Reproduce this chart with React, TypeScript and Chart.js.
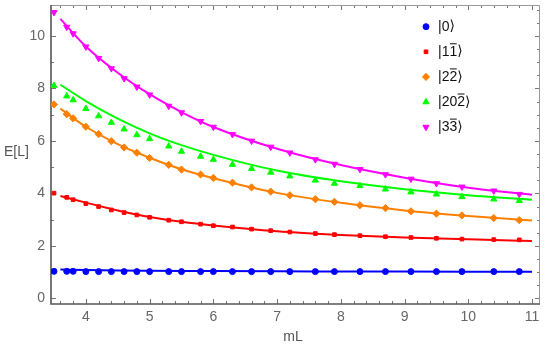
import React, { useEffect, useRef } from "react";
import { Chart, registerables } from "chart.js";

Chart.register(...registerables);

// Sample points (mL values shared by all states)
const mL = [3.5, 3.7, 3.8, 4.0, 4.2, 4.4, 4.6, 4.8, 5.0, 5.3, 5.5, 5.8, 6.0, 6.3, 6.6, 6.9, 7.2, 7.6, 7.9, 8.3, 8.7, 9.1, 9.5, 9.9, 10.4, 10.8];
const e0 = [1.03, 1.03, 1.03, 1.02, 1.02, 1.02, 1.02, 1.02, 1.02, 1.02, 1.02, 1.02, 1.02, 1.02, 1.02, 1.02, 1.02, 1.02, 1.02, 1.02, 1.02, 1.02, 1.02, 1.02, 1.02, 1.02];
const e11 = [4.01, 3.85, 3.76, 3.61, 3.5, 3.37, 3.27, 3.18, 3.09, 2.98, 2.92, 2.83, 2.77, 2.72, 2.64, 2.58, 2.53, 2.47, 2.43, 2.39, 2.35, 2.32, 2.29, 2.26, 2.24, 2.23];
const e22 = [7.39, 7.02, 6.86, 6.54, 6.26, 5.99, 5.75, 5.55, 5.35, 5.09, 4.91, 4.72, 4.59, 4.41, 4.23, 4.07, 3.93, 3.78, 3.68, 3.55, 3.44, 3.32, 3.23, 3.16, 3.06, 2.98];
const e202 = [8.11, 7.71, 7.56, 7.23, 6.95, 6.7, 6.45, 6.23, 6.08, 5.8, 5.6, 5.41, 5.29, 5.1, 4.94, 4.8, 4.66, 4.5, 4.38, 4.29, 4.16, 4.05, 3.97, 3.87, 3.78, 3.72];
const e33 = [10.9, 10.34, 10.09, 9.59, 9.15, 8.76, 8.38, 8.06, 7.76, 7.33, 7.08, 6.75, 6.53, 6.25, 6.0, 5.77, 5.55, 5.29, 5.12, 4.92, 4.72, 4.55, 4.38, 4.25, 4.1, 3.97];

// Fitted curves
const fitX = [3.6, 4, 4.5, 5, 5.5, 6, 7, 8, 9, 10, 11];
const fit0 = [1.1, 1.08, 1.065, 1.055, 1.047, 1.04, 1.03, 1.025, 1.02, 1.018, 1.015];
const fit11 = [3.9, 3.65, 3.35, 3.1, 2.92, 2.78, 2.56, 2.42, 2.32, 2.25, 2.19];
const fit22 = [7.23, 6.54, 5.88, 5.36, 4.92, 4.58, 4.02, 3.64, 3.35, 3.14, 2.97];
const fit202 = [8.14, 7.52, 6.85, 6.29, 5.84, 5.47, 4.87, 4.46, 4.16, 3.93, 3.76];
const fit33 = [10.65, 9.6, 8.6, 7.78, 7.1, 6.53, 5.7, 5.08, 4.6, 4.22, 3.95];

// Ticks
const xTicks = [4, 5, 6, 7, 8, 9, 10, 11];
const yTicks = [0, 2, 4, 6, 8, 10];

// Legend: [prefix, overlined digit]
const legendParts: [string, string][] = [["0", ""], ["1", "1"], ["2", "2"], ["20", "2"], ["3", "3"]];

const colors = ["#0000ff", "#ff0000", "#ff8000", "#00ff00", "#ff00ff"];
const styles: any[] = ["circle", "rect", "rectRot", "triangle", "triangle"];
const rotations = [0, 0, 0, 0, 180];
const radii = [3, 2.6, 3.6, 3.6, 3.6];

const pts = (xs: number[], ys: number[]) => xs.map((x, i) => ({ x, y: ys[i] }));

function marker(ctx: CanvasRenderingContext2D, style: string, rot: number, r: number, x: number, y: number) {
  ctx.beginPath();
  if (style === "circle") {
    ctx.arc(x, y, r, 0, Math.PI * 2);
  } else if (style === "rect") {
    const s = r * Math.SQRT1_2;
    ctx.rect(x - s, y - s, 2 * s, 2 * s);
  } else if (style === "rectRot") {
    ctx.moveTo(x, y - r); ctx.lineTo(x + r, y); ctx.lineTo(x, y + r); ctx.lineTo(x - r, y); ctx.closePath();
  } else {
    const a = (rot * Math.PI) / 180;
    for (let k = 0; k < 3; k++) {
      const t = a + (k * 2 * Math.PI) / 3;
      const px = x + Math.sin(t) * r;
      const py = y - Math.cos(t) * r;
      if (k === 0) ctx.moveTo(px, py); else ctx.lineTo(px, py);
    }
    ctx.closePath();
  }
  ctx.fill();
  ctx.stroke();
}

export default function App() {
  const ref = useRef<HTMLCanvasElement>(null);
  useEffect(() => {
    document.body.style.margin = "0";
    const samples = [e0, e11, e22, e202, e33];
    const fits = [fit0, fit11, fit22, fit202, fit33];
    const datasets: any[] = [];
    samples.forEach((s, i) => {
      datasets.push({
        data: pts(mL, s),
        showLine: false,
        pointStyle: styles[i],
        rotation: rotations[i],
        pointRadius: radii[i],
        pointBackgroundColor: colors[i],
        pointBorderColor: colors[i],
        pointBorderWidth: 1,
      });
    });
    fits.forEach((f, i) => {
      datasets.push({
        data: pts(fitX, f),
        showLine: true,
        pointRadius: 0,
        borderColor: colors[i],
        borderWidth: 2,
        cubicInterpolationMode: "monotone",
        fill: false,
      });
    });

    const framePlugin = {
      id: "frame",
      beforeDatasetsDraw(chart: any) {
        const { ctx, chartArea: a, scales } = chart;
        const xs = scales.x, ys = scales.y;
        ctx.save();
        ctx.strokeStyle = "#777";
        ctx.lineWidth = 1;
        ctx.beginPath();
        for (let k = 18; k <= 55; k++) {
          const v = k / 5;
          const px = Math.round(xs.getPixelForValue(v)) + 0.5;
          if (px < a.left + 1 || px > a.right - 1) continue;
          const major = k % 5 === 0;
          const L = major ? 5 : 3;
          ctx.moveTo(px, a.bottom); ctx.lineTo(px, a.bottom - L);
          ctx.moveTo(px, a.top); ctx.lineTo(px, a.top + L);
        }
        for (let k = 0; k <= 22; k++) {
          const v = k / 2;
          const py = Math.round(ys.getPixelForValue(v)) + 0.5;
          if (py < a.top + 1 || py > a.bottom - 1) continue;
          const major = k % 4 === 0;
          const L = major ? 5 : 3;
          if (k % 2 === 0) { ctx.moveTo(a.left, py); ctx.lineTo(a.left + L, py); }
          ctx.moveTo(a.right, py); ctx.lineTo(a.right - L, py);
        }
        ctx.stroke();
        ctx.strokeStyle = "#999";
        ctx.lineWidth = 1;
        ctx.beginPath();
        ctx.moveTo(a.left, a.top + 0.5); ctx.lineTo(a.right - 0.5, a.top + 0.5); ctx.lineTo(a.right - 0.5, a.bottom);
        ctx.stroke();
        ctx.strokeStyle = "#555";
        ctx.lineWidth = 1.6;
        ctx.beginPath();
        ctx.moveTo(a.left, a.top); ctx.lineTo(a.left, a.bottom); ctx.lineTo(a.right, a.bottom);
        ctx.stroke();
        ctx.fillStyle = "#555";
        ctx.font = "14px 'Liberation Sans', Arial, sans-serif";
        ctx.textBaseline = "middle";
        ctx.textAlign = "left";
        ctx.fillText("E[L]", 4, 152);
        ctx.textAlign = "center";
        ctx.fillText("mL", 293, 337);
        ctx.restore();
      },
      afterDraw(chart: any) {
        const { ctx } = chart;
        ctx.save();
        const mx = 426, tx = 438;
        legendParts.forEach((p, i) => {
          const y = 26.7 + i * 25.1;
          ctx.fillStyle = colors[i];
          ctx.strokeStyle = colors[i];
          ctx.lineWidth = 1;
          marker(ctx, styles[i], rotations[i], radii[i], mx, y);
          ctx.fillStyle = "#111";
          ctx.font = "14px 'Liberation Sans', Arial, sans-serif";
          ctx.textBaseline = "middle";
          ctx.textAlign = "left";
          let x = tx;
          const pre = "|" + p[0];
          ctx.fillText(pre, x, y);
          x += ctx.measureText(pre).width;
          if (p[1]) {
            ctx.fillText(p[1], x, y);
            const w = ctx.measureText(p[1]).width;
            ctx.fillRect(x + 0.5, y - 8.5, w - 1, 1);
            x += w;
          }
          ctx.font = "14px 'DejaVu Sans', sans-serif";
          ctx.fillText("\u27E9", x, y);
        });
        ctx.restore();
      },
    };

    const chart = new Chart(ref.current as HTMLCanvasElement, {
      type: "scatter",
      data: { datasets },
      options: {
        animation: false,
        responsive: false,
        devicePixelRatio: 1,
        layout: { padding: { top: 1, right: 3, left: 0, bottom: 0 } },
        plugins: { legend: { display: false }, tooltip: { enabled: false } },
        scales: {
          x: {
            type: "linear",
            min: 3.453,
            max: 11.125,
            afterFit: (s: any) => { s.height = 42; s.paddingLeft = 0; s.paddingRight = 0; },
            afterBuildTicks: (s: any) => { s.ticks = xTicks.map((v) => ({ value: v })); },
            grid: { display: false, drawTicks: false },
            border: { display: false },
            ticks: { color: "#666", padding: 5, font: { size: 14, family: "'Liberation Sans', Arial, sans-serif" }, maxRotation: 0, autoSkip: false },
          },
          y: {
            type: "linear",
            min: -0.214,
            max: 11.18,
            afterFit: (s: any) => { s.width = 51; s.paddingTop = 0; s.paddingBottom = 0; },
            afterBuildTicks: (s: any) => { s.ticks = yTicks.map((v) => ({ value: v })); },
            grid: { display: false, drawTicks: false },
            border: { display: false },
            ticks: { color: "#666", padding: 6, font: { size: 14, family: "'Liberation Sans', Arial, sans-serif" }, autoSkip: false },
          },
        },
      } as any,
      plugins: [framePlugin],
    });
    return () => chart.destroy();
  }, []);
  return (
    <div style={{ width: 545, height: 346 }}>
      <canvas ref={ref} width={545} height={346} />
    </div>
  );
}
